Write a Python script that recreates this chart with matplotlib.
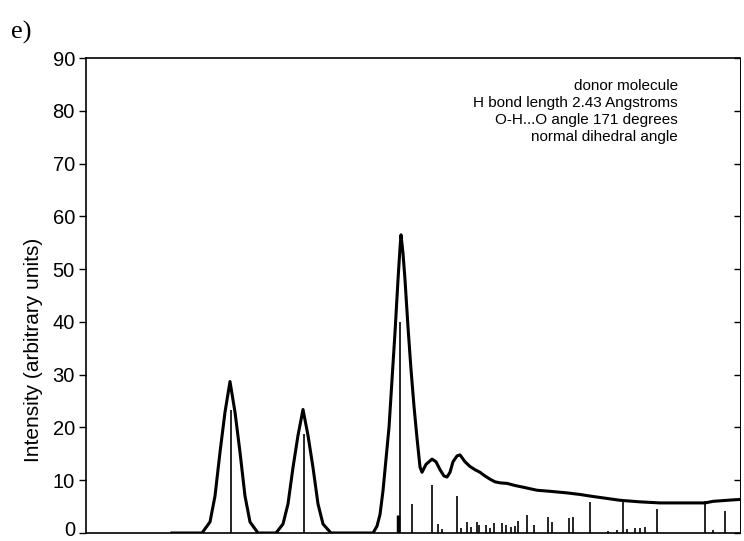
import matplotlib
matplotlib.use("Agg")
import matplotlib.pyplot as plt
import matplotlib.transforms as mtransforms

# Envelope curve (arbitrary x units, intensity in arbitrary units)
curve_x = [86, 116, 124, 129, 134, 139, 144, 149, 154, 159, 164, 172,
           190, 197, 202, 207, 212, 217, 222, 227, 232, 237, 245,
           287, 291, 294, 297, 300, 303, 306, 309, 312, 314, 315, 317, 319,
           322, 325, 328, 331, 334, 336, 340, 346, 350, 354, 358, 361, 364,
           367, 371, 374, 379, 384, 389, 394, 399, 404, 409, 414, 421, 429,
           439, 451, 464, 481, 494, 504, 519, 534, 554, 574, 619, 627, 649, 658]
curve_y = [0, 0, 2.1, 7.0, 15.3, 22.9, 28.7, 22.9, 15.3, 7.0, 2.1, 0,
           0, 1.7, 5.5, 12.4, 18.5, 23.4, 18.5, 12.4, 5.5, 1.7, 0,
           0, 1.3, 3.5, 8.0, 14.0, 20.0, 29.0, 38.0, 48.0, 54.0, 56.5, 53.0, 48.0,
           39.0, 31.0, 24.0, 18.0, 12.5, 11.5, 13.0, 14.0, 13.5, 12.0, 10.8, 10.6, 11.5,
           13.5, 14.6, 14.8, 13.5, 12.6, 12.0, 11.5, 10.8, 10.2, 9.7, 9.5, 9.4, 9.0,
           8.6, 8.1, 7.9, 7.6, 7.3, 7.0, 6.6, 6.2, 5.9, 5.7, 5.7, 6.0, 6.3, 6.4]

# Stick spectrum
stick_x = [145, 218, 312, 314, 326, 346, 352, 356, 371, 375, 381, 385, 391, 393,
           400, 404, 408, 416, 420, 425, 429, 432, 441, 448, 462, 466, 483, 487,
           504, 522, 531, 537, 541, 549, 554, 559, 571, 619, 627, 639]
stick_y = [23.4, 18.7, 3.4, 40.0, 5.5, 9.1, 1.7, 0.8, 7.0, 1.0, 2.1, 1.2, 2.1, 1.6,
           1.5, 1.0, 1.9, 1.9, 1.6, 1.1, 1.3, 2.2, 3.4, 1.5, 3.1, 2.1, 2.8, 3.1,
           5.8, 0.4, 0.5, 6.4, 0.8, 0.9, 1.0, 1.1, 4.5, 6.1, 0.6, 4.1]

y_ticks = [0, 10, 20, 30, 40, 50, 60, 70, 80, 90]

annotation = ["donor molecule",
              "H bond length 2.43 Angstroms",
              "O-H...O angle 171 degrees",
              "normal dihedral angle"]

plt.rcParams['font.family'] = ['Liberation Sans', 'DejaVu Sans']

fig = plt.figure(figsize=(7.44, 5.41), dpi=100)
ax = fig.add_axes([86/744, 1 - 533/541, (740 - 86)/744, (533 - 58)/541])

ax.plot(curve_x, curve_y, color='black', lw=2.2, solid_joinstyle='round')
lws = [1.2] * len(stick_x)
lws[2] = 2.5
ax.vlines(stick_x, 0, stick_y, colors='black', linewidth=lws)

ax.set_xlim(0, 654)
ax.set_ylim(0, 90)
ax.set_xticks([])
ax.set_yticks(y_ticks)
ax.tick_params(axis='y', which='both', left=True, right=False, direction='out',
               length=5, width=1, labelsize=14.5, pad=3)
ax2 = ax.secondary_yaxis('right')
ax2.set_yticks(y_ticks)
ax2.tick_params(direction='in', length=4, width=1, labelright=False)
ax2.spines['right'].set_linewidth(0.6)
for s in ['left', 'bottom', 'top']:
    ax.spines[s].set_linewidth(1.2)
ax.spines['right'].set_linewidth(0.6)

# keep the bottom "0" label inside the canvas
fig.canvas.draw()
lab0 = ax.get_yticklabels()[0]
lab0.set_transform(lab0.get_transform() +
                   mtransforms.ScaledTranslation(0, 4/100, fig.dpi_scale_trans))

ax.set_ylabel("Intensity (arbitrary units)", fontsize=15, labelpad=6)
ax.yaxis.set_label_coords(-0.066, 0.385)

ax.text(0.905, 0.955, "\n".join(annotation), transform=ax.transAxes,
        ha='right', va='top', fontsize=11, linespacing=1.25)

fig.text(11/744, 1 - 39/541, "e)", family='Liberation Serif', fontsize=19,
         ha='left', va='baseline')

fig.savefig("out.png", dpi=100)
